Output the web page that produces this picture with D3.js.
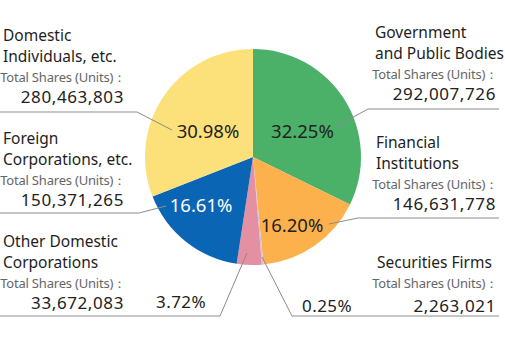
<!DOCTYPE html>
<html><head><meta charset="utf-8">
<script src="https://cdn.jsdelivr.net/npm/d3@7"></script>
<style>
html,body{margin:0;padding:0;background:#fff;}
svg{display:block;font-family:"Noto Sans","Open Sans",sans-serif;}
</style></head>
<body><svg id="c" width="505" height="340"></svg>
<script>
// ---- data ----
const categories = ["Government and Public Bodies","Financial Institutions","Securities Firms","Other Domestic Corporations","Foreign Corporations, etc.","Domestic Individuals, etc."];
const nameLines = [["Government","and Public Bodies"],["Financial","Institutions"],["Securities Firms"],["Other Domestic","Corporations"],["Foreign","Corporations, etc."],["Domestic","Individuals, etc."]];
const shares = [292007726, 146631778, 2263021, 33672083, 150371265, 280463803];
const percents = [32.25, 16.20, 0.25, 3.72, 16.61, 30.98];
const percentLabels = ["32.25%","16.20%","0.25%","3.72%","16.61%","30.98%"];
const shareLabels = ["292,007,726","146,631,778","2,263,021","33,672,083","150,371,265","280,463,803"];
const colors = ["#4bb168","#fdb14c","#c9c7dd","#e48fa2","#0a66b4","#fce07a"];
const unitLabel = "Total Shares (Units)：";

// ---- layout ----
const cx = 253, cy = 157, R = 108;
const svg = d3.select("#c");
const pie = d3.pie().sort(null).value(d => d).startAngle(0).endAngle(2*Math.PI);
const arcs = pie(percents);
const arc = d3.arc().innerRadius(0).outerRadius(R);

const g = svg.append("g").attr("transform",`translate(${cx},${cy})`);
g.selectAll("path").data(arcs).join("path")
  .attr("d", arc).attr("fill",(d,i)=>colors[i]);

// in-pie percent labels (polar positions: angle deg, radius)
const inPie = {0:{a:62,r:56,fill:"#222"},1:{a:150,r:78,fill:"#222"},5:{a:300,r:52,fill:"#222"},4:{a:227,r:71,fill:"#fff"}};
Object.entries(inPie).forEach(([i,p])=>{
  const t = p.a*Math.PI/180;
  g.append("text").attr("x", p.r*Math.sin(t)).attr("y", -p.r*Math.cos(t)+7)
   .attr("text-anchor","middle").attr("font-size",18.5).attr("fill",p.fill)
   .text(percentLabels[+i]);
});

// leader lines
const leaders = [
  [[335,127],[368,109],[499,109]],
  [[329,224],[358,218],[499,218]],
  [[262,257],[292,316],[499,316]],
  [[247,253],[220,316],[0,316]],
  [[166,206],[139,213],[0,213]],
  [[172,130],[137,112],[0,112]]
];
svg.append("g").selectAll("path").data(leaders).join("path")
  .attr("d", d=>d3.line()(d)).attr("fill","none").attr("stroke","#8c8c8c").attr("stroke-width",1);

// label blocks
const blocks = [
  {x:375, y:38, side:"r"},
  {x:376, y:148, side:"r"},
  {x:377, y:268, side:"r", oneLine:true},
  {x:3, y:247, side:"l"},
  {x:3, y:144, side:"l"},
  {x:3, y:41, side:"l"}
];
blocks.forEach((b,i)=>{
  const lines = nameLines[i];
  let y = b.y;
  lines.forEach(l=>{
    svg.append("text").attr("x",b.x).attr("y",y).attr("font-size",15.5).attr("fill","#1e1e1e").text(l);
    y += 20.5;
  });
  const right = b.side==="r" ? 498 : 126;
  svg.append("text").attr("x",right).attr("y",y-0.5).attr("text-anchor","end")
     .attr("font-size",13).attr("letter-spacing",-0.2).attr("fill","#666").text(unitLabel);
  const ny = b.oneLine ? y+23 : y+21;
  svg.append("text").attr("x",b.side==="r"?496:124).attr("y",ny).attr("text-anchor","end")
     .attr("font-size",17).attr("letter-spacing",0.6).attr("fill","#222").text(shareLabels[i]);
});
// outside percent labels for small slices
svg.append("text").attr("x",181).attr("y",308).attr("text-anchor","middle").attr("font-size",17).attr("letter-spacing",0.4).attr("fill","#222").text(percentLabels[3]);
svg.append("text").attr("x",327).attr("y",312).attr("text-anchor","middle").attr("font-size",17).attr("letter-spacing",0.4).attr("fill","#222").text(percentLabels[2]);
</script></body></html>
